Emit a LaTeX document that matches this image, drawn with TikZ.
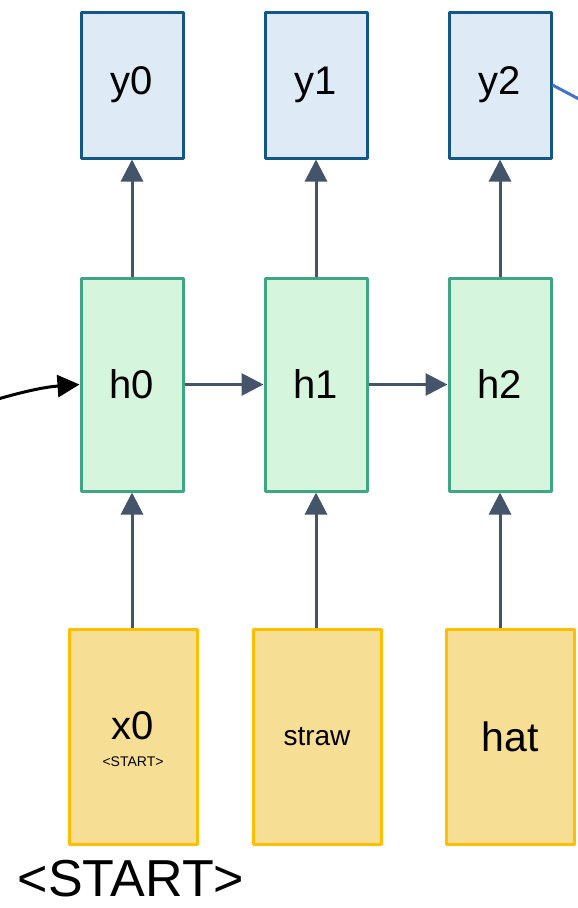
\documentclass[tikz,border=0pt]{standalone}
\usepackage{fontspec}
\setmainfont{Liberation Sans}
\usetikzlibrary{arrows.meta}
\definecolor{yfill}{HTML}{DEEAF6}
\definecolor{ydraw}{HTML}{12568A}
\definecolor{hfill}{HTML}{D5F5DC}
\definecolor{hdraw}{HTML}{3FA683}
\definecolor{xfill}{HTML}{F7DE95}
\definecolor{xdraw}{HTML}{FFBE00}
\definecolor{arr}{HTML}{44546A}
\definecolor{outline}{HTML}{4472C4}
\begin{document}
\begin{tikzpicture}[x=1pt,y=-1pt,line join=round,
	ybox/.style={draw=ydraw,fill=yfill,line width=3pt,minimum width=102pt,minimum height=146pt,inner sep=0pt,font=\fontsize{40}{44}\selectfont},
	hbox/.style={draw=hdraw,fill=hfill,line width=3pt,minimum width=102pt,minimum height=213pt,inner sep=0pt,font=\fontsize{40}{44}\selectfont},
	xbox/.style={draw=xdraw,fill=xfill,line width=3pt,minimum width=128pt,minimum height=215pt,inner sep=0pt},
	link/.style={draw=arr,line width=3pt,-{Triangle[width=22pt,length=22pt]}}]
	\useasboundingbox (0,0) rectangle (578,908);
	\def\yy{85} \def\hy{384.5} \def\xy{736.5} % rows
	\foreach \i/\cx in {0/132,1/316,2/500} {
		\node[ybox] (y\i) at (\cx,\yy) {y\i};
		\node[hbox] (h\i) at (\cx,\hy) {h\i};
	}
	\node[xbox] (x0) at (133,\xy) {};
	\node[font=\fontsize{40}{44}\selectfont] (x0txt) at (133,726) {x0};
	\node[font=\fontsize{14}{16}\selectfont] (x0sub) at (133,762) {<START>};
	\node[xbox,font=\fontsize{28}{32}\selectfont] (x1) at (317,\xy) {straw};
	\node[xbox,font=\fontsize{41}{44}\selectfont] (x2) at (510,\xy) {hat};
	\node[font=\fontsize{52}{56}\selectfont,inner sep=0pt] (start) at (131,879) {<START>};
	\foreach \i in {0,1,2} {
		\draw[link] (x\i.north -| h\i) -- (h\i.south);
		\draw[link] (h\i) -- (y\i.south);
	}
	\draw[link] (h0.east) -- (h1.west);
	\draw[link] (h1.east) -- (h2.west);
	\coordinate (prev) at (-2,399);
	\draw[line width=3pt,-{Triangle[width=22pt,length=22pt]}] (prev) to[bend left=6] (h0.west);
	\coordinate (next) at (592,106);
	\draw[outline,line width=3pt] (y2.east) -- (next);
\end{tikzpicture}
\end{document}
